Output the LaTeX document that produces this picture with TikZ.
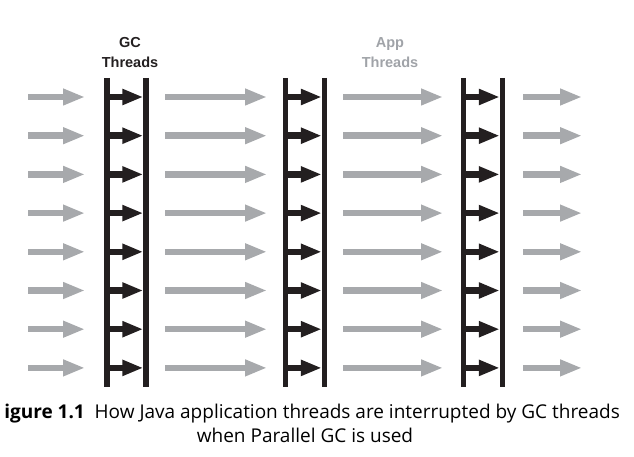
\documentclass[tikz,border=0pt]{standalone}
\usepackage{fontspec}
\setmainfont{Open Sans}
\newfontfamily\labelfont{Liberation Sans}
\usetikzlibrary{arrows.meta}
\definecolor{appgray}{RGB}{167,169,172}
\definecolor{labelgray}{RGB}{160,163,168}
\definecolor{gcblack}{RGB}{35,31,32}
\tikzset{
    appthread/.style={draw=appgray, line width=6.5pt, -{Triangle[length=22pt,width=15.5pt]}},
    gcthread/.style={draw=gcblack, line width=6.5pt, shorten >=2.75pt, -{Triangle[length=21pt,width=15pt]}},
    gcbar/.style={draw=gcblack, line width=5.5pt},
    heading/.style={font=\labelfont\bfseries\fontsize{14.5}{20}\selectfont, align=center, inner sep=0pt},
    caption/.style={font=\fontsize{19}{24}\selectfont, inner sep=0pt}
}

\begin{document}
\begin{tikzpicture}[x=1pt,y=-1pt]
    \useasboundingbox (0,0) rectangle (634,457);

    \foreach \name/\bx in {one/107,two/285.5,three/463.5} {
        \coordinate (\name-ltop) at (\bx,78);
        \coordinate (\name-lbot) at (\bx,387);
        \coordinate (\name-rtop) at (\bx+39,78);
        \coordinate (\name-rbot) at (\bx+39,387);
        \draw[gcbar] (\name-ltop) -- (\name-lbot);
        \draw[gcbar] (\name-rtop) -- (\name-rbot);
    }

    \foreach \i in {0,...,7} {
        \pgfmathsetmacro\y{97+38.7*\i}
        \coordinate (start\i) at (28,\y);
        \coordinate (wait\i) at (85,\y);
        \coordinate (runa\i) at (165,\y);
        \coordinate (stopa\i) at (267,\y);
        \coordinate (runb\i) at (343,\y);
        \coordinate (stopb\i) at (443,\y);
        \coordinate (runc\i) at (523,\y);
        \coordinate (endc\i) at (582,\y);
        \foreach \name/\bx in {one/107,two/285.5,three/463.5} {
            \coordinate (\name-gc\i) at (\bx,\y);
            \coordinate (\name-done\i) at (\bx+39,\y);
            \draw[gcthread] (\name-gc\i) -- (\name-done\i);
        }
        \draw[appthread] (start\i) -- (wait\i);
        \draw[appthread] (runa\i) -- (stopa\i);
        \draw[appthread] (runb\i) -- (stopb\i);
        \draw[appthread] (runc\i) -- (endc\i);
    }

    \node[heading, text=gcblack] (gclabel) at (130,53) {GC\\Threads};
    \node[heading, text=labelgray] (applabel) at (390,53) {App\\Threads};

    \node[caption, anchor=base east] (capone) at (620,418)
        {\textbf{igure 1.1}\ \ How Java application threads are interrupted by GC threads};
    \node[caption, anchor=base] (captwo) at (305,442) {when Parallel GC is used};

\end{tikzpicture}
\end{document}
